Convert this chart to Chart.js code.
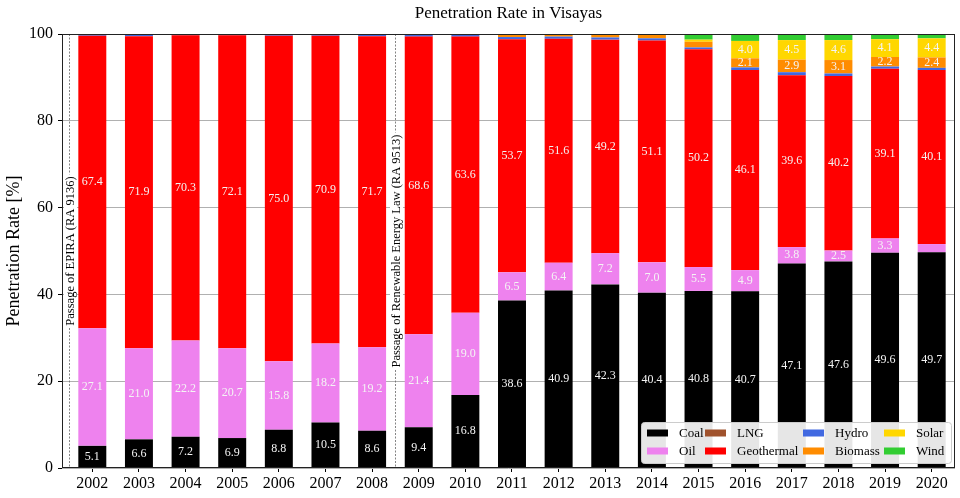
<!DOCTYPE html>
<html>
<head>
<meta charset="utf-8">
<title>Penetration Rate in Visayas</title>
<script src="https://cdn.jsdelivr.net/npm/chart.js@4.4.0/dist/chart.umd.min.js"></script>
<style>
    body { margin: 0; background: #fff; }
    #chart { width: 960px; height: 498px; }
</style>
</head>
<body>
<div id="chart"><canvas id="canvas"></canvas></div>
<script>
const years = [2002, 2003, 2004, 2005, 2006, 2007, 2008, 2009, 2010, 2011,
               2012, 2013, 2014, 2015, 2016, 2017, 2018, 2019, 2020];

const coal = [5.1, 6.6, 7.2, 6.9, 8.8, 10.5, 8.6, 9.4, 16.8, 38.6,
              40.9, 42.3, 40.4, 40.8, 40.7, 47.1, 47.6, 49.6, 49.7];
const oil = [27.1, 21.0, 22.2, 20.7, 15.8, 18.2, 19.2, 21.4, 19.0, 6.5,
             6.4, 7.2, 7.0, 5.5, 4.9, 3.8, 2.5, 3.3, 1.9];
const lng = [0, 0, 0, 0, 0, 0, 0, 0, 0, 0,
             0, 0, 0, 0, 0, 0, 0, 0, 0];
const geothermal = [67.4, 71.9, 70.3, 72.1, 75.0, 70.9, 71.7, 68.6, 63.6, 53.7,
                    51.6, 49.2, 51.1, 50.2, 46.1, 39.6, 40.2, 39.1, 40.1];
const hydro = [0.4, 0.5, 0.3, 0.2, 0.2, 0.2, 0.5, 0.6, 0.5, 0.5,
               0.5, 0.5, 0.5, 0.4, 0.6, 0.7, 0.6, 0.5, 0.5];
const biomass = [0, 0, 0, 0, 0, 0, 0, 0, 0, 0.5,
                 0.5, 0.8, 0.9, 1.3, 2.1, 2.9, 3.1, 2.2, 2.4];
const solar = [0, 0, 0, 0, 0, 0, 0, 0, 0, 0,
               0, 0, 0, 0.5, 4.0, 4.5, 4.6, 4.1, 4.4];
const wind = [0, 0, 0, 0, 0, 0, 0, 0, 0, 0,
              0, 0, 0, 1.2, 1.6, 1.4, 1.4, 1.2, 1.0];

// policy markers, drawn between bars
const markerYears = [2001.5, 2008.5];
const markerLabels = ["Passage of EPIRA (RA 9136)", "Passage of Renewable Energy Law (RA 9513)"];

const chartTitle = "Penetration Rate in Visayas";
const font = "Liberation Serif";

const series = [
    ["Coal", coal, "#000000"],
    ["Oil", oil, "#ee82ee"],
    ["LNG", lng, "#a0522d"],
    ["Geothermal", geothermal, "#ff0000"],
    ["Hydro", hydro, "#4169e1"],
    ["Biomass", biomass, "#ff8c00"],
    ["Solar", solar, "#ffd700"],
    ["Wind", wind, "#32cd32"]
];

let datasets = [];
for (let i = 0; i < series.length; i++) {
    datasets.push({
        label: series[i][0],
        data: series[i][1],
        backgroundColor: series[i][2],
        borderWidth: 0,
        categoryPercentage: 1,
        barPercentage: 0.6
    });
}

// value labels inside the segments
const valueLabels = {
    id: "valueLabels",
    afterDatasetsDraw(chart) {
        const ctx = chart.ctx;
        ctx.save();
        ctx.font = "12px '" + font + "'";
        ctx.fillStyle = "#f4f4f4";
        ctx.textAlign = "center";
        ctx.textBaseline = "middle";
        chart.data.datasets.forEach((ds, d) => {
            const meta = chart.getDatasetMeta(d);
            meta.data.forEach((bar, i) => {
                const v = ds.data[i];
                if (v > 2) {
                    ctx.fillText(v.toFixed(1), bar.x, (bar.y + bar.base) / 2);
                }
            });
        });
        ctx.restore();
    }
};

// dashed lines for the two laws, frame and title over the plot
const markers = {
    id: "markers",
    afterDraw(chart) {
        const ctx = chart.ctx;
        const area = chart.chartArea;
        const x = chart.scales.x;
        const y = chart.scales.y;
        ctx.save();
        for (let i = 0; i < markerYears.length; i++) {
            const px = Math.round(x.getPixelForValue(markerYears[i])) + 0.5;
            ctx.strokeStyle = "#666";
            ctx.lineWidth = 0.8;
            ctx.setLineDash([2, 1.5]);
            ctx.beginPath();
            ctx.moveTo(px, area.top);
            ctx.lineTo(px, area.bottom);
            ctx.stroke();
            ctx.setLineDash([]);

            const py = y.getPixelForValue(50);
            ctx.translate(px + 1, py);
            ctx.rotate(-Math.PI / 2);
            ctx.font = "12.5px '" + font + "'";
            const w = ctx.measureText(markerLabels[i]).width;
            ctx.fillStyle = "#fff";
            ctx.fillRect(-w / 2 - 2, -6.5, w + 4, 13);
            ctx.fillStyle = "#000";
            ctx.textAlign = "center";
            ctx.textBaseline = "middle";
            ctx.fillText(markerLabels[i], 0, 0);
            ctx.setTransform(1, 0, 0, 1, 0, 0);
        }
        ctx.strokeStyle = "#222";
        ctx.lineWidth = 1;
        ctx.strokeRect(area.left + 0.5, area.top + 0.5, area.right - area.left - 1, area.bottom - area.top - 1);

        ctx.font = "17px '" + font + "'";
        ctx.fillStyle = "#000";
        ctx.textAlign = "center";
        ctx.textBaseline = "middle";
        ctx.fillText(chartTitle, (area.left + area.right) / 2, 14);
        ctx.restore();
    }
};

// legend box in the lower right, two rows, filled column by column
const boxLegend = {
    id: "boxLegend",
    afterDraw(chart) {
        const ctx = chart.ctx;
        const area = chart.chartArea;
        const bx = area.right - 314;
        const by = area.bottom - 46;
        const colX = [6, 64, 162, 243];
        ctx.save();
        ctx.fillStyle = "rgba(255,255,255,0.9)";
        ctx.strokeStyle = "#ccc";
        ctx.lineWidth = 1;
        ctx.beginPath();
        ctx.roundRect(bx + 0.5, by + 0.5, 310, 41, 3);
        ctx.fill();
        ctx.stroke();
        ctx.font = "13px '" + font + "'";
        ctx.textBaseline = "middle";
        chart.data.datasets.forEach((ds, d) => {
            const col = Math.floor(d / 2);
            const row = d % 2;
            const sx = bx + colX[col];
            const sy = by + 11 + row * 18;
            ctx.fillStyle = ds.backgroundColor;
            ctx.fillRect(sx, sy - 3.5, 21, 7);
            ctx.fillStyle = "#000";
            ctx.fillText(ds.label, sx + 32, sy + 1);
        });
        ctx.restore();
    }
};

new Chart(document.getElementById("canvas"), {
    type: "bar",
    data: {
        labels: years,
        datasets: datasets
    },
    options: {
        responsive: true,
        maintainAspectRatio: false,
        animation: false,
        layout: { padding: { right: 5, top: 34 } },
        plugins: {
            legend: { display: false },
            tooltip: { enabled: false },
            title: { display: false }
        },
        scales: {
            x: {
                type: "linear",
                stacked: true,
                offset: false,
                min: 2001.35,
                max: 2020.5,
                afterBuildTicks: axis => {
                    axis.ticks = years.map(v => ({ value: v }));
                },
                afterFit: axis => { axis.height = 30; },
                grid: { display: true, offset: false, drawOnChartArea: false, tickLength: 4, tickColor: "#000" },
                border: { display: false },
                ticks: {
                    autoSkip: false,
                    maxRotation: 0,
                    padding: 2,
                    color: "#000",
                    font: { family: font, size: 16 },
                    callback: v => String(v)
                }
            },
            y: {
                stacked: true,
                min: 0,
                max: 100,
                afterFit: axis => { axis.width = 62; },
                grid: { color: "#b0b0b0", tickLength: 4, tickColor: "#000" },
                border: { display: false },
                ticks: {
                    stepSize: 20,
                    padding: 5,
                    color: "#000",
                    font: { family: font, size: 16 }
                },
                title: {
                    display: true,
                    text: "Penetration Rate [%]",
                    color: "#000",
                    padding: { top: 3, bottom: 4 },
                    font: { family: font, size: 18 }
                }
            }
        }
    },
    plugins: [valueLabels, markers, boxLegend]
});
</script>
</body>
</html>
